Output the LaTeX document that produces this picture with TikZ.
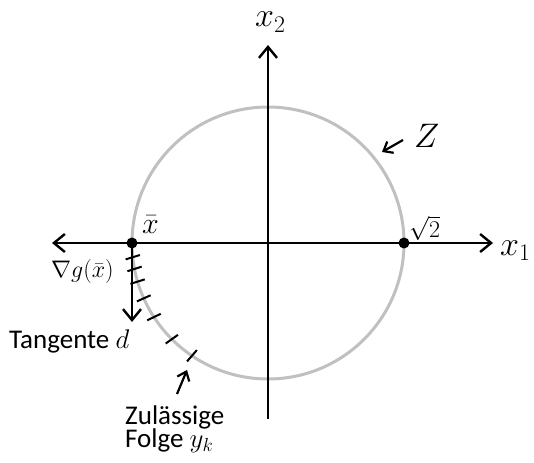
\RequirePackage{fix-cm}
\documentclass[tikz,border=0pt]{standalone}
\usepackage{fontspec}
\newfontfamily\carl{Carlito}
\usetikzlibrary{arrows.meta,calc}
\definecolor{circgray}{RGB}{192,192,192}
\begin{document}
\begin{tikzpicture}[x=1pt,y=-1pt,
  axis/.style={line width=2.4pt,-{Straight Barb[length=11pt,width=18pt]}},
  smallarrow/.style={line width=2.2pt,-{Straight Barb[length=8pt,width=13pt]}},
  gcircle/.style={circgray,line width=3pt},
  hatch/.style={line width=2pt},
  dot/.style={fill=black},
  lbl/.style={inner sep=0pt,anchor=base west},
  bigm/.style={lbl,font=\fontsize{34}{34}\selectfont},
  midm/.style={lbl,font=\fontsize{30}{30}\selectfont},
  smallm/.style={lbl,font=\fontsize{24}{24}\selectfont},
  txt/.style={lbl,font=\carl\fontsize{27}{28}\selectfont}]
\useasboundingbox (0,0) rectangle (534,462);
% coordinates
\coordinate (O) at (268,243);
\coordinate (xl) at (52,243);
\coordinate (xr) at (493,243);
\coordinate (yt) at (268,45);
\coordinate (yb) at (268,419);
\coordinate (xbar) at (132,243);
\coordinate (sq2) at (404,243);
\coordinate (dtip) at (132,322);
\coordinate (ztail) at (403,140);
\coordinate (zhead) at (382,152);
\coordinate (ftail) at (177,394);
\coordinate (fhead) at (187,370);
% circle Z
\draw[gcircle] (O) circle (136);
% axes
\draw[axis] (O) -- (xr);
\draw[axis] (O) -- (xl);
\draw[axis] (yb) -- (yt);
% tangent d
\draw[axis] (xbar) -- (dtip);
% hatching (feasible sequence)
\foreach \a/\t in {6/-17, 11/-18, 16.5/-17.5, 24/-24, 33/-25.5, 45/-35.5, 56/-49}{
  \coordinate (P) at ($(O)+(180-\a:136)$);
  \draw[hatch] ($(P)+(\t:7.5)$) -- ($(P)+(\t+180:7.5)$);
}
% dots
\fill[dot] (xbar) circle (5.5);
\fill[dot] (sq2) circle (5.5);
% label arrows
\draw[smallarrow] (ztail) -- (zhead);
\draw[smallarrow] (ftail) -- (fhead);
% labels
\node[bigm] (lx1) at (500,255) {$x_1$};
\node[bigm] (lx2) at (255,27) {$x_2$};
\node[bigm] (lZ) at (414,148) {$Z$};
\node[midm] (lxbar) at (142,233) {$\bar{x}$};
\node[smallm] (lsq) at (409,237) {$\sqrt{2}$};
\node[smallm] (lgrad) at (51,277) {$\nabla g(\bar{x})$};
\node[txt] (ltan) at (9,348) {Tangente $d$};
\node[txt] (lzul) at (125,424) {Zulässige};
\node[txt] (lfol) at (125,447) {Folge $y_k$};
\end{tikzpicture}
\end{document}
